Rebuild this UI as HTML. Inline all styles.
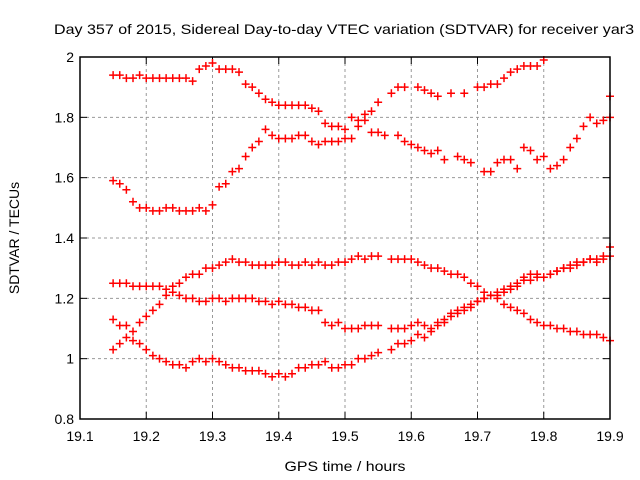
<!DOCTYPE html>
<html><head><meta charset="utf-8"><style>
body{margin:0;background:#fff}
svg{display:block;font-family:"Liberation Sans",sans-serif}
</style></head><body>
<svg id="chart" width="640" height="480">
<text x="344" y="34" text-anchor="middle" font-size="14" textLength="580" lengthAdjust="spacingAndGlyphs">Day 357 of 2015, Sidereal Day-to-day VTEC variation (SDTVAR) for receiver yar3</text>
<text x="345" y="471" text-anchor="middle" font-size="14" textLength="121" lengthAdjust="spacingAndGlyphs">GPS time / hours</text>
<text transform="translate(19,238) rotate(-90)" text-anchor="middle" font-size="14">SDTVAR / TECUs</text>
<g id="grid"></g>
<g id="ticks"></g>
<g id="marks"></g>
<rect x="80" y="57" width="530" height="362" fill="none" stroke="#000" stroke-width="1.5"/>
</svg>
<script>
const xTicks=[19.1,19.2,19.3,19.4,19.5,19.6,19.7,19.8,19.9];
const yTicks=[0.8,1,1.2,1.4,1.6,1.8,2];
const yTickLabels=["0.8","1","1.2","1.4","1.6","1.8","2"];
const xA=[19.15,19.16,19.17,19.18,19.19,19.20,19.21,19.22,19.23,19.24,19.25,19.26,19.27,19.28,19.29,19.30,19.31,19.32,19.33,19.34,19.35,19.36,19.37,19.38,19.39,19.40,19.41,19.42,19.43,19.44,19.45,19.46,19.47,19.48,19.49,19.50,19.51,19.52,19.53,19.54,19.55,19.57,19.58,19.59,19.61,19.62,19.63,19.64,19.66,19.68,19.70,19.71,19.72,19.73,19.74,19.75,19.76,19.77,19.78,19.79,19.80];
const yA=[1.94,1.94,1.93,1.93,1.94,1.93,1.93,1.93,1.93,1.93,1.93,1.93,1.92,1.96,1.97,1.98,1.96,1.96,1.96,1.95,1.91,1.90,1.88,1.86,1.85,1.84,1.84,1.84,1.84,1.84,1.83,1.82,1.78,1.77,1.77,1.76,1.80,1.79,1.81,1.82,1.85,1.88,1.90,1.90,1.90,1.89,1.88,1.87,1.88,1.88,1.90,1.90,1.91,1.91,1.93,1.95,1.96,1.97,1.97,1.97,1.99];
const xB=[19.15,19.16,19.17,19.18,19.19,19.20,19.21,19.22,19.23,19.24,19.25,19.26,19.27,19.28,19.29,19.30,19.31,19.32,19.33,19.34,19.35,19.36,19.37,19.38,19.39,19.40,19.41,19.42,19.43,19.44,19.45,19.46,19.47,19.48,19.49,19.50,19.51,19.52,19.53,19.54,19.55,19.56,19.58,19.59,19.60,19.61,19.62,19.63,19.64,19.65,19.67,19.68,19.69,19.71,19.72,19.73,19.74,19.75,19.76,19.77,19.78,19.79,19.80,19.81,19.82,19.83,19.84,19.85,19.86,19.87,19.88,19.89,19.90,19.90];
const yB=[1.59,1.58,1.56,1.52,1.50,1.50,1.49,1.49,1.50,1.50,1.49,1.49,1.49,1.50,1.49,1.51,1.57,1.58,1.62,1.63,1.67,1.70,1.72,1.76,1.74,1.73,1.73,1.73,1.74,1.74,1.72,1.71,1.72,1.72,1.72,1.73,1.73,1.77,1.79,1.75,1.75,1.74,1.74,1.72,1.71,1.70,1.69,1.68,1.69,1.66,1.67,1.66,1.65,1.62,1.62,1.65,1.66,1.66,1.63,1.70,1.69,1.66,1.67,1.63,1.64,1.66,1.70,1.73,1.77,1.80,1.78,1.79,1.80,1.87];
const xC=[19.15,19.16,19.17,19.18,19.19,19.20,19.21,19.22,19.23,19.24,19.25,19.26,19.27,19.28,19.29,19.30,19.31,19.32,19.33,19.34,19.35,19.36,19.37,19.38,19.39,19.40,19.41,19.42,19.43,19.44,19.45,19.46,19.47,19.48,19.49,19.50,19.51,19.52,19.53,19.54,19.55,19.57,19.58,19.59,19.60,19.61,19.62,19.63,19.64,19.65,19.66,19.67,19.68,19.69,19.70,19.71,19.72,19.73,19.74,19.75,19.76,19.77,19.78,19.79,19.80,19.81,19.82,19.83,19.84,19.85,19.86,19.87,19.88,19.89,19.90];
const yC=[1.25,1.25,1.25,1.24,1.24,1.24,1.24,1.24,1.23,1.24,1.25,1.27,1.28,1.28,1.30,1.30,1.31,1.32,1.33,1.32,1.32,1.31,1.31,1.31,1.31,1.32,1.32,1.31,1.31,1.32,1.31,1.32,1.31,1.31,1.32,1.32,1.33,1.34,1.33,1.34,1.34,1.33,1.33,1.33,1.33,1.32,1.31,1.30,1.30,1.29,1.28,1.28,1.27,1.25,1.24,1.22,1.21,1.20,1.18,1.17,1.16,1.15,1.13,1.12,1.11,1.11,1.10,1.10,1.09,1.09,1.08,1.08,1.08,1.07,1.06];
const xD=[19.15,19.16,19.17,19.18,19.19,19.20,19.21,19.22,19.23,19.24,19.25,19.26,19.27,19.28,19.29,19.30,19.31,19.32,19.33,19.34,19.35,19.36,19.37,19.38,19.39,19.40,19.41,19.42,19.43,19.44,19.45,19.46,19.47,19.48,19.49,19.50,19.51,19.52,19.53,19.54,19.55,19.57,19.58,19.59,19.60,19.61,19.62,19.63,19.64,19.65,19.66,19.67,19.68,19.69,19.70,19.71,19.72,19.73,19.74,19.75,19.76,19.77,19.78,19.79,19.80,19.81,19.82,19.83,19.84,19.85,19.86,19.87,19.88,19.89,19.90];
const yD=[1.13,1.11,1.11,1.09,1.12,1.14,1.16,1.18,1.21,1.22,1.21,1.20,1.20,1.19,1.19,1.20,1.20,1.19,1.20,1.20,1.20,1.20,1.19,1.19,1.18,1.19,1.18,1.18,1.17,1.17,1.16,1.16,1.12,1.11,1.12,1.10,1.10,1.10,1.11,1.11,1.11,1.10,1.10,1.10,1.11,1.12,1.11,1.10,1.12,1.13,1.15,1.16,1.17,1.18,1.19,1.20,1.21,1.21,1.23,1.24,1.24,1.27,1.28,1.28,1.27,1.28,1.29,1.30,1.31,1.32,1.32,1.33,1.33,1.34,1.37];
const xE=[19.15,19.16,19.17,19.18,19.19,19.20,19.21,19.22,19.23,19.24,19.25,19.26,19.27,19.28,19.29,19.30,19.31,19.32,19.33,19.34,19.35,19.36,19.37,19.38,19.39,19.40,19.41,19.42,19.43,19.44,19.45,19.46,19.47,19.48,19.49,19.50,19.51,19.52,19.53,19.54,19.55,19.57,19.58,19.59,19.60,19.61,19.62,19.63,19.64,19.65,19.66,19.67,19.68,19.69,19.70,19.71,19.72,19.73,19.74,19.75,19.76,19.77,19.78,19.79,19.80,19.81,19.82,19.83,19.84,19.85,19.86,19.87,19.88,19.89,19.90];
const yE=[1.03,1.05,1.07,1.06,1.05,1.03,1.01,1.00,0.99,0.98,0.98,0.97,0.99,1.00,0.99,1.00,0.99,0.98,0.97,0.97,0.96,0.96,0.96,0.95,0.94,0.95,0.94,0.95,0.97,0.97,0.98,0.98,0.99,0.97,0.97,0.98,0.98,1.00,1.00,1.01,1.02,1.03,1.05,1.05,1.06,1.08,1.07,1.09,1.11,1.12,1.14,1.15,1.16,1.17,1.19,1.20,1.21,1.22,1.22,1.23,1.25,1.26,1.26,1.27,1.27,1.28,1.29,1.30,1.30,1.31,1.32,1.33,1.32,1.33,1.34];
const seriesX=[xA,xB,xC,xD,xE];
const seriesY=[yA,yB,yC,yD,yE];
const seriesNames=["series-a","series-b","series-c","series-d","series-e"];

const L=80,R=610,T=57,B=419;
const sx=v=>L+(v-19.1)/(19.9-19.1)*(R-L);
const sy=v=>B-(v-0.8)/(2-0.8)*(B-T);
const NS="http://www.w3.org/2000/svg";
function mk(tag,attrs,parent){const e=document.createElementNS(NS,tag);for(const k in attrs)e.setAttribute(k,attrs[k]);parent.appendChild(e);return e;}
const grid=document.getElementById('grid'),ticks=document.getElementById('ticks'),marks=document.getElementById('marks');
xTicks.forEach((v,i)=>{
  const x=sx(v);
  if(i>0&&i<xTicks.length-1){const g=mk('line',{x1:x,x2:x,y1:T,y2:B,stroke:'#999','stroke-dasharray':'3,3'},grid);
  
  }
  mk('line',{x1:x,x2:x,y1:B,y2:B-7,stroke:'#000'},ticks);
  mk('line',{x1:x,x2:x,y1:T,y2:T+7,stroke:'#000'},ticks);
  const t=mk('text',{x:x,y:B+22,'text-anchor':'middle','font-size':'14'},ticks);
  t.textContent=v.toFixed(1);
  
  
});
yTicks.forEach((v,i)=>{
  const y=sy(v);
  if(i>0&&i<yTicks.length-1){const g=mk('line',{x1:L,x2:R,y1:y,y2:y,stroke:'#999','stroke-dasharray':'3,3'},grid);
  
  }
  mk('line',{x1:L,x2:L+7,y1:y,y2:y,stroke:'#000'},ticks);
  mk('line',{x1:R,x2:R-7,y1:y,y2:y,stroke:'#000'},ticks);
  const t=mk('text',{x:L-6,y:y+5,'text-anchor':'end','font-size':'14'},ticks);
  t.textContent=yTickLabels[i];
  
  
});
seriesX.forEach((xs,s)=>{
  const g=mk('g',{stroke:'#f00','stroke-width':'1.5'},marks);
  
  
  xs.forEach((xv,i)=>{
    const x=sx(xv),y=sy(seriesY[s][i]);
    const p=mk('path',{d:`M${x-4},${y}H${x+4}M${x},${y-4}V${y+4}`},g);
    
    
  });
});
</script>
</body></html>
